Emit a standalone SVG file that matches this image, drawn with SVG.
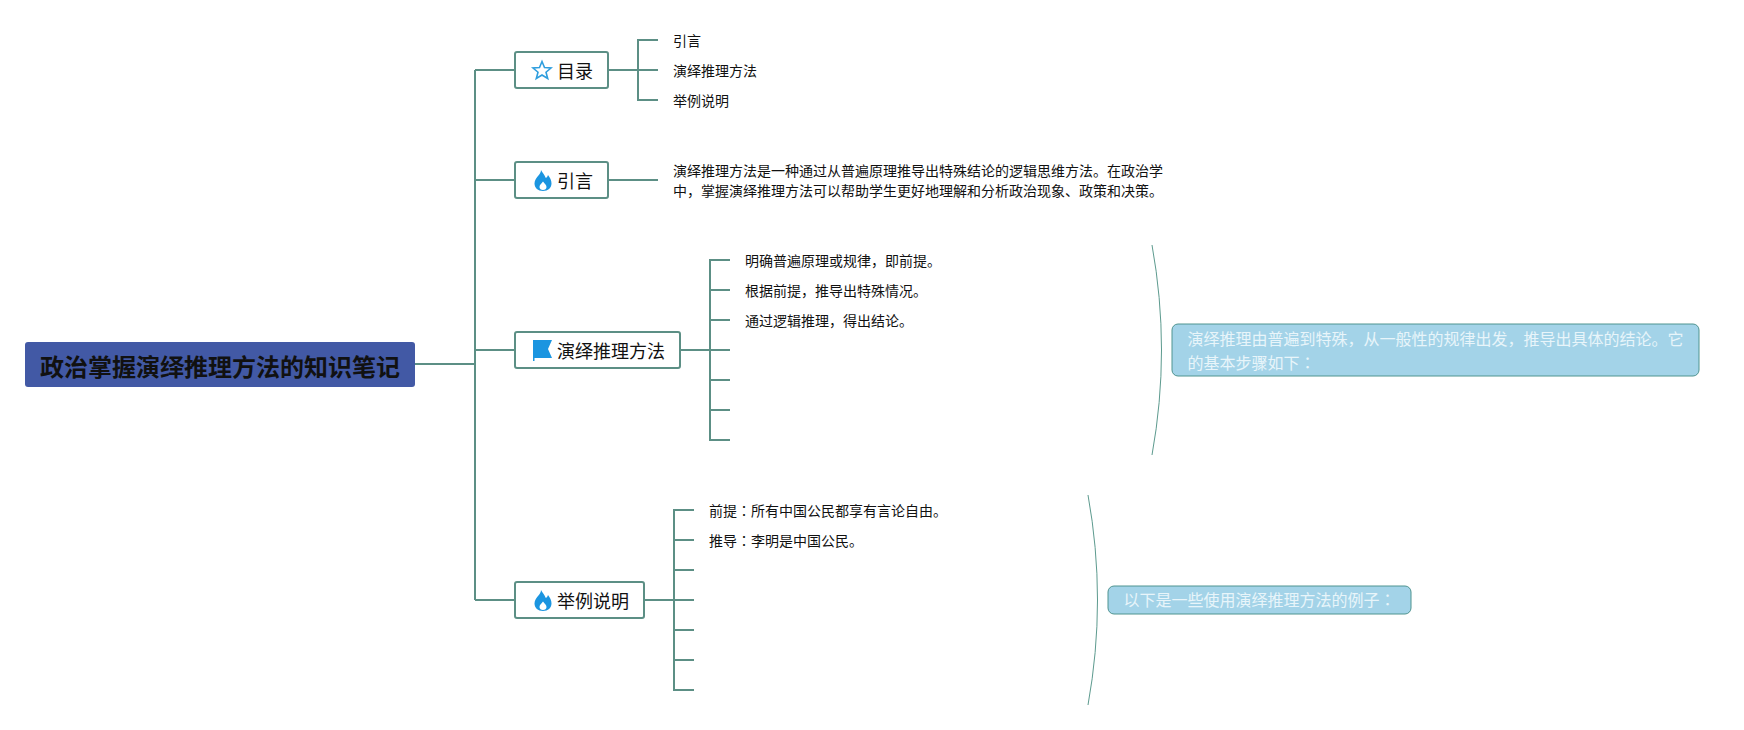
<svg xmlns="http://www.w3.org/2000/svg" width="1744" height="730" viewBox="0 0 1744 730">
<style>
text{font-family:"Noto Sans CJK SC","Noto Sans",sans-serif;fill:#111}
.c{fill:none;stroke:#5c8f85;stroke-width:2}
.n{fill:#fff;stroke:#5c8f85;stroke-width:2}
.t{font-size:18px}
.s{font-size:14px}
.w{font-size:16px;fill:#e8f5fa}
.co{fill:#a3d3e8;stroke:#4f9490;stroke-width:1}
.b{fill:none;stroke:#5c9a8e;stroke-width:1}
.i{fill:#1b95e0}
.cn{font-family:"Noto Sans CJK JP",sans-serif}
</style>
<defs>
<path id="flame" fill-rule="evenodd" d="M541 170C542.500 172.500 544.500 175 545.800 178C546.800 177.600 547.500 176.500 548 175C550 177.500 551.500 180.500 551.500 183.500C551.500 188 548 191 543 191C538 191 534.500 188 534.500 183.500C534.500 180 536.500 178 538 176C539.500 174.300 541 172.500 541 170ZM543 181.500C541.500 183.500 539.500 185 539.500 187C539.500 189 541 190 543 190C545 190 546.500 189 546.500 187C546.500 185 544.500 183.500 543 181.500Z"/>
</defs>
<rect width="1744" height="730" fill="#fff"/>
<g id="connectors">
<path class="c" d="M415 364H475M475 70V600M475 70H515M475 180H515M475 350H515M475 600H515"/>
<path class="c" d="M608 70H658M658 40H638V100H658"/>
<path class="c" d="M608 180H658"/>
<path class="c" d="M680 350H730M730 260H710V440H730M710 290H730M710 320H730M710 380H730M710 410H730"/>
<path class="c" d="M644 600H694M694 510H674V690H694M674 540H694M674 570H694M674 630H694M674 660H694"/>
<path class="b" d="M1152 245Q1171 350 1152 455"/>
<path class="b" d="M1088 495Q1107 600 1088 705"/>
</g>
<g id="root">
<rect x="25" y="342" width="390" height="45" rx="3" fill="#4259a5"/>
<text x="40" y="376" font-size="24" font-weight="700">政治掌握演绎推理方法的知识笔记</text>
</g>
<g id="node-toc">
<rect class="n" x="515" y="52" width="93" height="36" rx="2"/>
<path d="M542 61.500L544.500 67.500L551 68L546 72.200L547.700 78.500L542 75L536.300 78.500L538 72.200L533 68L539.500 67.500Z" fill="none" stroke="#2f9ede" stroke-width="1.600"/>
<text class="t" x="557" y="78">目录</text>
</g>
<g id="toc-1"><text class="s" x="673" y="46">引言</text></g>
<g id="toc-2"><text class="s" x="673" y="76">演绎推理方法</text></g>
<g id="toc-3"><text class="s" x="673" y="106">举例说明</text></g>
<g id="node-intro">
<rect class="n" x="515" y="162" width="93" height="36" rx="2"/>
<use href="#flame" class="i"/>
<text class="t" x="557" y="187.500">引言</text>
</g>
<g id="intro-1"><text class="s" x="673" y="175.500">演绎推理方法是一种通过从普遍原理推导出特殊结论的逻辑思维方法。在政治学</text><text class="s" x="673" y="196">中，掌握演绎推理方法可以帮助学生更好地理解和分析政治现象、政策和决策。</text></g>
<g id="node-method">
<rect class="n" x="515" y="332" width="165" height="36" rx="2"/>
<path class="i" d="M533 340H552L548 349L552 358H534.500V361H533Z"/>
<text class="t" x="557" y="358">演绎推理方法</text>
</g>
<g id="method-1"><text class="s" x="745" y="266">明确普遍原理或规律，即前提。</text></g>
<g id="method-2"><text class="s" x="745" y="296">根据前提，推导出特殊情况。</text></g>
<g id="method-3"><text class="s" x="745" y="326">通过逻辑推理，得出结论。</text></g>
<g id="method-note">
<rect class="co" x="1172" y="324" width="527" height="52" rx="6"/>
<text class="w" x="1187.500" y="344.500">演绎推理由普遍到特殊，从一般性的规律出发，推导出具体的结论。它</text>
<text class="w" x="1187.500" y="368.500">的基本步骤如下<tspan class="cn">：</tspan></text>
</g>
<g id="node-example">
<rect class="n" x="515" y="582" width="129" height="36" rx="2"/>
<use href="#flame" class="i" y="420"/>
<text class="t" x="557" y="607.500">举例说明</text>
</g>
<g id="example-1"><text class="s" x="709" y="516">前提<tspan class="cn">：</tspan>所有中国公民都享有言论自由。</text></g>
<g id="example-2"><text class="s" x="709" y="546">推导<tspan class="cn">：</tspan>李明是中国公民。</text></g>
<g id="example-note">
<rect class="co" x="1108" y="586" width="303" height="28" rx="6"/>
<text class="w" x="1123.500" y="605.500">以下是一些使用演绎推理方法的例子<tspan class="cn">：</tspan></text>
</g>
</svg>
